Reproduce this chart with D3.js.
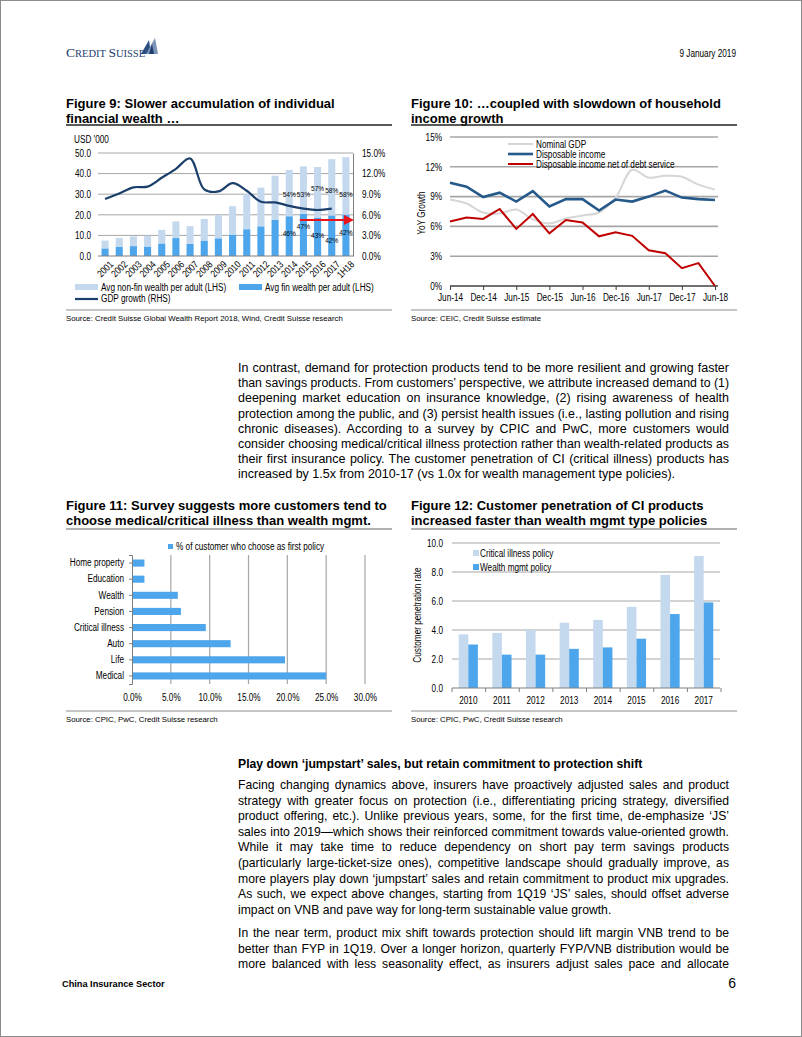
<!DOCTYPE html>
<html><head><meta charset="utf-8">
<script src="https://cdn.jsdelivr.net/npm/d3@7"></script>
<style>
html,body{margin:0;padding:0;background:#fff;}
svg text{font-family:"Liberation Sans",Arial,sans-serif;}
</style></head>
<body>
<svg id="page" width="802" height="1037"></svg>
<script>
// ---------- DATA ----------
const f9Years = ["2001","2002","2003","2004","2005","2006","2007","2008","2009","2010","2011","2012","2013","2014","2015","2016","2017","1H18"];
const f9Fin    = [3.7,4.5,4.8,4.6,6.1,8.7,5.9,7.5,8.6,10.4,13.0,14.4,17.5,19.3,20.5,18.6,19.7,20.0];
const f9NonFin = [3.8,4.3,4.7,5.2,6.6,8.1,8.6,10.5,11.4,13.8,17.0,18.8,21.5,22.5,23.0,24.6,27.3,28.0];
const f9GdpYears = ["2001","2002","2003","2004","2005","2006","2007","2008","2009","2010","2011","2012","2013","2014","2015","2016","2017"];
const f9Gdp = [8.3,9.1,10.0,10.1,11.4,12.7,14.2,9.7,9.4,10.6,9.5,7.9,7.8,7.3,6.9,6.7,6.9];
const f9ShareYears = ["2014","2015","2016","2017","1H18"];
const f9NonFinShare = ["54%","53%","57%","58%","58%"];
const f9FinShare = ["46%","47%","43%","42%","42%"];
const f9LeftTicks = [0,10,20,30,40,50];
const f9RightTicks = [0,3,6,9,12,15];

const f10Quarters = ["Jun-14","Sep-14","Dec-14","Mar-15","Jun-15","Sep-15","Dec-15","Mar-16","Jun-16","Sep-16","Dec-16","Mar-17","Jun-17","Sep-17","Dec-17","Mar-18","Jun-18"];
const f10Nominal = [8.7,8.3,7.4,7.3,7.7,6.7,6.3,6.8,7.1,7.4,8.9,11.7,10.9,11.1,11.0,10.2,9.7];
const f10Disp    = [10.4,10.0,8.95,9.4,8.5,9.55,8.0,8.75,8.75,7.6,8.7,8.5,9.0,9.6,8.9,8.75,8.65];
const f10Net     = [6.5,6.9,6.75,7.75,5.75,7.25,5.3,6.65,6.4,5.0,5.4,5.05,3.6,3.3,1.8,2.3,0.0];
const f10Ticks = [0,3,6,9,12,15];

const f11Cats = ["Home property","Education","Wealth","Pension","Critical illness","Auto","Life","Medical"];
const f11Vals = [1.6,1.6,5.9,6.3,9.5,12.7,19.7,25.0];
const f11Ticks = [0,5,10,15,20,25,30];

const f12Years = ["2010","2011","2012","2013","2014","2015","2016","2017"];
const f12CI = [3.7,3.8,4.0,4.5,4.7,5.6,7.8,9.1];
const f12WM = [3.0,2.3,2.3,2.7,2.8,3.4,5.1,5.9];
const f12Ticks = [0,2,4,6,8,10];

// ---------- PAGE ----------
const svg = d3.select("#page");
const C_LIGHT = "#c5d9ee", C_BLUE = "#4da6ec", GRID = "#a6a6a6", AX = "#7f7f7f";
const NARROW = 0.82;

svg.append("rect").attr("x",0.5).attr("y",0.5).attr("width",801).attr("height",1036)
  .attr("fill","#fff").attr("stroke","#8c8c8c");

// header
const logo = svg.append("text").attr("class","reg").attr("x",66).attr("y",57).attr("fill","#1d3d6e")
  .style("font-family","'Liberation Serif','Times New Roman',serif").style("font-size","13.5px");
logo.append("tspan").text("C");
logo.append("tspan").style("font-size","10.5px").text("REDIT ");
logo.append("tspan").text("S");
logo.append("tspan").style("font-size","10.5px").text("UISSE");
svg.append("path").attr("d","M141,54 L149,40 L151,54 Z").attr("fill","#2c4f80");
svg.append("path").attr("d","M146,54 L155,38 L158,54 Z").attr("fill","#7a93b8");
svg.append("path").attr("d","M149,54 L152,44 L154,54 Z").attr("fill","#1d3d6e");
svg.append("text").attr("x",736).attr("y",57).attr("text-anchor","end").style("font-size","10px").text("9 January 2019");

function title(x, y, lines, ruleY, ruleColor, ruleW){
  lines.forEach((t,i)=>svg.append("text").attr("class","reg").attr("x",x).attr("y",y+i*15)
    .style("font-size","13px").style("font-weight","bold").attr("fill","#000").text(t));
  svg.append("line").attr("x1",x).attr("x2",x+326).attr("y1",ruleY).attr("y2",ruleY)
    .attr("stroke",ruleColor).attr("stroke-width",ruleW);
}
function source(x, ruleY, txt){
  svg.append("line").attr("x1",x).attr("x2",x+326).attr("y1",ruleY).attr("y2",ruleY).attr("stroke","#8c8c8c").attr("stroke-width",1);
  svg.append("text").attr("class","reg").attr("x",x).attr("y",ruleY+11).style("font-size","7.8px").text(txt);
}

// ---------- FIGURE 9 ----------
title(66,108,["Figure 9: Slower accumulation of individual","financial wealth …"],125,"#222",1.3);
svg.append("text").attr("x",74).attr("y",143).style("font-size","10px").text("USD '000");
{
  const x = d3.scaleBand().domain(f9Years).range([98,353]).paddingInner(0.5).paddingOuter(0.25);
  const y = d3.scaleLinear().domain([0,50]).range([256,153]);
  const yR = d3.scaleLinear().domain([0,15]).range([256,153]);
  const g = svg.append("g");
  g.selectAll(".gl").data(f9LeftTicks.slice(1)).join("line")
    .attr("x1",98).attr("x2",353).attr("y1",d=>y(d)).attr("y2",d=>y(d)).attr("stroke",GRID).attr("stroke-width",1);
  g.selectAll(".bf").data(f9Years).join("rect")
    .attr("x",d=>x(d)).attr("width",x.bandwidth())
    .attr("y",(d,i)=>y(f9Fin[i])).attr("height",(d,i)=>y(0)-y(f9Fin[i])).attr("fill",C_BLUE);
  g.selectAll(".bn").data(f9Years).join("rect")
    .attr("x",d=>x(d)).attr("width",x.bandwidth())
    .attr("y",(d,i)=>y(f9Fin[i]+f9NonFin[i])).attr("height",(d,i)=>y(f9Fin[i])-y(f9Fin[i]+f9NonFin[i])).attr("fill",C_LIGHT);
  const la = g.append("g").attr("transform","translate(98,0)").call(d3.axisLeft(y).tickValues(f9LeftTicks).tickFormat(d3.format(".1f")).tickSize(0).tickPadding(7));
  la.select(".domain").remove();
  const ra = g.append("g").attr("transform","translate(353,0)").call(d3.axisRight(yR).tickValues(f9RightTicks).tickFormat(d=>d.toFixed(1)+"%").tickSize(0).tickPadding(9));
  ra.select(".domain").attr("stroke",AX);
  [la,ra].forEach(a=>a.selectAll("text").style("font-size","10px").attr("font-family",null).attr("fill","#000"));
  g.append("line").attr("x1",98).attr("x2",353).attr("y1",y(0)).attr("y2",y(0)).attr("stroke",AX);
  g.selectAll(".xl").data(f9Years).join("text")
    .attr("transform",d=>`translate(${x(d)+x.bandwidth()/2+4},${y(0)+4}) rotate(-45)`)
    .attr("text-anchor","end").attr("dy","0.7em").style("font-size","10px").text(d=>d);
  const line = d3.line().x((d,i)=>x(f9GdpYears[i])+x.bandwidth()/2).y(d=>yR(d)).curve(d3.curveCatmullRom.alpha(0.5));
  g.append("path").attr("d",line(f9Gdp)).attr("fill","none").attr("stroke","#1b3f6b").attr("stroke-width",2.2);
  // share labels: middle of each segment, with small layout nudges (px) as in the original
  const upNudge = [1,4,-4,3,8], lowNudge = [-3,-9,-2,4,-3];
  f9ShareYears.forEach((yr,k)=>{
    const i = f9Years.indexOf(yr);
    const cx = x(yr)+x.bandwidth()/2;
    g.append("text").attr("x",cx).attr("y",y(f9Fin[i]+f9NonFin[i]/2)+3+upNudge[k]).attr("text-anchor","middle").style("font-size","8px").text(f9NonFinShare[k]);
    g.append("text").attr("x",cx).attr("y",y(f9Fin[i]/2)+3+lowNudge[k]).attr("text-anchor","middle").style("font-size","8px").text(f9FinShare[k]);
  });
  const ay = y(17.5);
  svg.append("defs").append("marker").attr("id","ah").attr("viewBox","0 0 10 10").attr("refX",8).attr("refY",5)
    .attr("markerWidth",5).attr("markerHeight",5).attr("orient","auto")
    .append("path").attr("d","M0,0 L10,5 L0,10 Z").attr("fill","#e8141b");
  g.append("line").attr("x1",x("2015")).attr("x2",352).attr("y1",ay).attr("y2",ay)
    .attr("stroke","#e8141b").attr("stroke-width",2).attr("marker-end","url(#ah)");
  const lg = svg.append("g");
  lg.append("rect").attr("x",75).attr("y",284).attr("width",23).attr("height",6).attr("fill",C_LIGHT);
  lg.append("text").attr("x",101).attr("y",291).style("font-size","10px").text("Avg non-fin wealth per adult (LHS)");
  lg.append("rect").attr("x",239).attr("y",284).attr("width",23).attr("height",6).attr("fill",C_BLUE);
  lg.append("text").attr("x",265).attr("y",291).style("font-size","10px").text("Avg fin wealth per adult (LHS)");
  lg.append("line").attr("x1",75).attr("x2",98).attr("y1",299).attr("y2",299).attr("stroke","#1b3f6b").attr("stroke-width",2.2);
  lg.append("text").attr("x",101).attr("y",302).style("font-size","10px").text("GDP growth (RHS)");
}
source(66,310,"Source: Credit Suisse Global Wealth Report 2018, Wind, Credit Suisse research");

// ---------- FIGURE 10 ----------
title(411,108,["Figure 10: …coupled with slowdown of household","income growth"],125,"#222",1.3);
{
  const x = d3.scalePoint().domain(f10Quarters).range([450,715]);
  const y = d3.scaleLinear().domain([0,15]).range([286,137]);
  const g = svg.append("g");
  g.selectAll(".gl").data(f10Ticks.slice(1)).join("line")
    .attr("x1",450).attr("x2",718).attr("y1",d=>y(d)).attr("y2",d=>y(d)).attr("stroke",GRID).attr("stroke-width",1.6);
  const la = g.append("g").attr("transform","translate(450,0)").call(d3.axisLeft(y).tickValues(f10Ticks).tickFormat(d=>d+"%").tickSize(0).tickPadding(8));
  la.select(".domain").remove();
  la.selectAll("text").style("font-size","10px").attr("font-family",null).attr("fill","#000");
  const xa = g.append("g").attr("transform",`translate(0,${y(0)})`)
    .call(d3.axisBottom(x).tickValues(f10Quarters.filter((d,i)=>i%2===0)).tickSize(4).tickPadding(4));
  xa.select(".domain").attr("stroke","#404040").attr("stroke-width",1.5).attr("d","M450,0H718");
  xa.selectAll("line").attr("stroke","#404040");
  xa.selectAll("text").style("font-size","10px").attr("font-family",null).attr("fill","#000");
  svg.append("text").attr("transform","translate(425,213) rotate(-90)").attr("text-anchor","middle").style("font-size","10px").text("YoY Growth");
  const lin = d3.line().x((d,i)=>x(f10Quarters[i])).y(d=>y(d));
  const smooth = d3.line().x((d,i)=>x(f10Quarters[i])).y(d=>y(d)).curve(d3.curveCatmullRom.alpha(0.5));
  g.append("path").attr("d",smooth(f10Nominal)).attr("fill","none").attr("stroke","#d6d6d6").attr("stroke-width",2);
  g.append("path").attr("d",lin(f10Disp)).attr("fill","none").attr("stroke","#24598a").attr("stroke-width",2.6);
  g.append("path").attr("d",lin(f10Net)).attr("fill","none").attr("stroke","#c00000").attr("stroke-width",2);
  const lg = svg.append("g");
  [["Nominal GDP","#d6d6d6",2],["Disposable income","#24598a",2.6],["Disposable income net of debt service","#c00000",2]].forEach((d,i)=>{
    const ly = 144+i*10;
    lg.append("line").attr("x1",508).attr("x2",533).attr("y1",ly).attr("y2",ly).attr("stroke",d[1]).attr("stroke-width",d[2]);
    lg.append("text").attr("x",536).attr("y",ly+3.5).style("font-size","10px").text(d[0]);
  });
}
source(411,310,"Source: CEIC, Credit Suisse estimate");

// ---------- justification helper ----------
function justify(lines, x0, x1, y0, lh, size, lastJust){
  lines.forEach((t,i)=>{
    const tx = svg.append("text").attr("class","reg").attr("x",x0).attr("y",y0+i*lh).style("font-size",size).attr("fill","#000").text(t);
    if(!((i===lines.length-1) && !lastJust)){
      const w = tx.node().getComputedTextLength();
      const spaces = (t.match(/ /g)||[]).length;
      const extra = (x1-x0)-w;
      if(extra>=0 && spaces>0) tx.attr("word-spacing",extra/spaces);
      else tx.attr("textLength",x1-x0).attr("lengthAdjust","spacingAndGlyphs");
    }
  });
}

// ---------- PARAGRAPH 1 ----------
const para1 = [
 "In contrast, demand for protection products tend to be more resilient and growing faster",
 "than savings products. From customers’ perspective, we attribute increased demand to (1)",
 "deepening market education on insurance knowledge, (2) rising awareness of health",
 "protection among the public, and (3) persist health issues (i.e., lasting pollution and rising",
 "chronic diseases). According to a survey by CPIC and PwC, more customers would",
 "consider choosing medical/critical illness protection rather than wealth-related products as",
 "their first insurance policy. The customer penetration of CI (critical illness) products has",
 "increased by 1.5x from 2010-17 (vs 1.0x for wealth management type policies)."
];
justify(para1,238,729,372,15.2,"12.5px",false);

// ---------- FIGURE 11 ----------
title(66,510,["Figure 11: Survey suggests more customers tend to","choose medical/critical illness than wealth mgmt."],529,"#9a9a9a",1.3);
{
  const y = d3.scaleBand().domain(f11Cats).range([555,684]).paddingInner(0.56).paddingOuter(0.28);
  const x = d3.scaleLinear().domain([0,30]).range([132,365]);
  const g = svg.append("g");
  g.selectAll(".gl").data(f11Ticks.slice(1)).join("line")
    .attr("x1",d=>x(d)).attr("x2",d=>x(d)).attr("y1",555).attr("y2",684).attr("stroke",GRID).attr("stroke-width",1.2);
  g.selectAll(".b").data(f11Cats).join("rect")
    .attr("x",x(0)).attr("y",d=>y(d)).attr("height",y.bandwidth())
    .attr("width",(d,i)=>x(f11Vals[i])-x(0)).attr("fill",C_BLUE);
  const ya = g.append("g").attr("transform","translate(132,0)").call(d3.axisLeft(y).tickSize(3).tickPadding(5));
  ya.select(".domain").attr("stroke",AX);
  ya.selectAll("line").attr("stroke",AX);
  ya.selectAll("text").style("font-size","10px").attr("font-family",null).attr("fill","#000");
  const xa = g.append("g").attr("transform","translate(0,684)").call(d3.axisBottom(x).tickValues(f11Ticks).tickFormat(d=>d.toFixed(1)+"%").tickSize(0).tickPadding(10));
  xa.select(".domain").remove();
  xa.selectAll("text").style("font-size","10px").attr("font-family",null).attr("fill","#000");
  g.append("rect").attr("x",168).attr("y",544).attr("width",5).attr("height",5).attr("fill",C_BLUE);
  g.append("text").attr("x",176).attr("y",550).style("font-size","10px").text("% of customer who choose as first policy");
}
source(66,711,"Source: CPIC, PwC, Credit Suisse research");

// ---------- FIGURE 12 ----------
title(411,510,["Figure 12: Customer penetration of CI products","increased faster than wealth mgmt type policies"],529,"#9a9a9a",1.3);
{
  const x = d3.scaleBand().domain(f12Years).range([452,720]).paddingInner(0.43).paddingOuter(0.2);
  const x1 = d3.scaleBand().domain(["ci","wm"]).range([0,x.bandwidth()]);
  const y = d3.scaleLinear().domain([0,10]).range([688,543]);
  const g = svg.append("g");
  g.selectAll(".gl").data(f12Ticks.slice(1)).join("line")
    .attr("x1",452).attr("x2",720).attr("y1",d=>y(d)).attr("y2",d=>y(d)).attr("stroke",GRID).attr("stroke-width",1.2);
  g.selectAll(".ci").data(f12Years).join("rect")
    .attr("x",d=>x(d)+x1("ci")).attr("width",x1.bandwidth())
    .attr("y",(d,i)=>y(f12CI[i])).attr("height",(d,i)=>y(0)-y(f12CI[i])).attr("fill",C_LIGHT);
  g.selectAll(".wm").data(f12Years).join("rect")
    .attr("x",d=>x(d)+x1("wm")).attr("width",x1.bandwidth())
    .attr("y",(d,i)=>y(f12WM[i])).attr("height",(d,i)=>y(0)-y(f12WM[i])).attr("fill",C_BLUE);
  const ya = g.append("g").attr("transform","translate(452,0)").call(d3.axisLeft(y).tickValues(f12Ticks).tickFormat(d3.format(".1f")).tickSize(0).tickPadding(9));
  ya.select(".domain").remove();
  ya.selectAll("text").style("font-size","10px").attr("font-family",null).attr("fill","#000");
  const xa = g.append("g").attr("transform",`translate(0,${y(0)})`).call(d3.axisBottom(x).tickSize(0).tickPadding(9));
  xa.select(".domain").attr("stroke",AX).attr("d","M452,0H720");
  xa.selectAll("text").style("font-size","10px").attr("font-family",null).attr("fill","#000");
  g.selectAll(".tk").data(d3.range(f12Years.length+1)).join("line")
    .attr("x1",d=>452+d*x.step()).attr("x2",d=>452+d*x.step()).attr("y1",y(0)).attr("y2",y(0)+4).attr("stroke",AX);
  svg.append("text").attr("transform","translate(421,615) rotate(-90)").attr("text-anchor","middle").style("font-size","10px").text("Customer penetration rate");
  g.append("rect").attr("x",473).attr("y",550).attr("width",6).attr("height",6).attr("fill",C_LIGHT);
  g.append("text").attr("x",480).attr("y",557).style("font-size","10px").text("Critical illness policy");
  g.append("rect").attr("x",473).attr("y",564).attr("width",6).attr("height",6).attr("fill",C_BLUE);
  g.append("text").attr("x",480).attr("y",571).style("font-size","10px").text("Wealth mgmt policy");
}
source(411,711,"Source: CPIC, PwC, Credit Suisse research");

// ---------- SECTION 2 ----------
svg.append("text").attr("class","reg").attr("x",238).attr("y",768).style("font-size","12.2px").style("font-weight","bold")
  .text("Play down ‘jumpstart’ sales, but retain commitment to protection shift");
const para2 = [
 "Facing changing dynamics above, insurers have proactively adjusted sales and product",
 "strategy with greater focus on protection (i.e., differentiating pricing strategy, diversified",
 "product offering, etc.). Unlike previous years, some, for the first time, de-emphasize ‘JS’",
 "sales into 2019—which shows their reinforced commitment towards value-oriented growth.",
 "While it may take time to reduce dependency on short pay term savings products",
 "(particularly large-ticket-size ones), competitive landscape should gradually improve, as",
 "more players play down ‘jumpstart’ sales and retain commitment to product mix upgrades.",
 "As such, we expect above changes, starting from 1Q19 ‘JS’ sales, should offset adverse",
 "impact on VNB and pave way for long-term sustainable value growth."
];
const para3 = [
 "In the near term, product mix shift towards protection should lift margin VNB trend to be",
 "better than FYP in 1Q19. Over a longer horizon, quarterly FYP/VNB distribution would be",
 "more balanced with less seasonality effect, as insurers adjust sales pace and allocate"
];
justify(para2,238,729,789,15.6,"12.2px",false);
justify(para3,238,729,937,15.6,"12.2px",true);

svg.append("text").attr("class","reg").attr("x",62).attr("y",987).style("font-size","9.2px").style("font-weight","bold").text("China Insurance Sector");
svg.append("text").attr("class","reg").attr("x",736).attr("y",988).attr("text-anchor","end").style("font-size","14px").text("6");

// condense chart texts (Arial Narrow look)
svg.selectAll("text").filter(function(){ return !this.classList.contains("reg"); }).each(function(){
  const len = this.getComputedTextLength();
  if(len>0) d3.select(this).attr("textLength",len*NARROW).attr("lengthAdjust","spacingAndGlyphs");
});
</script>
</body></html>
